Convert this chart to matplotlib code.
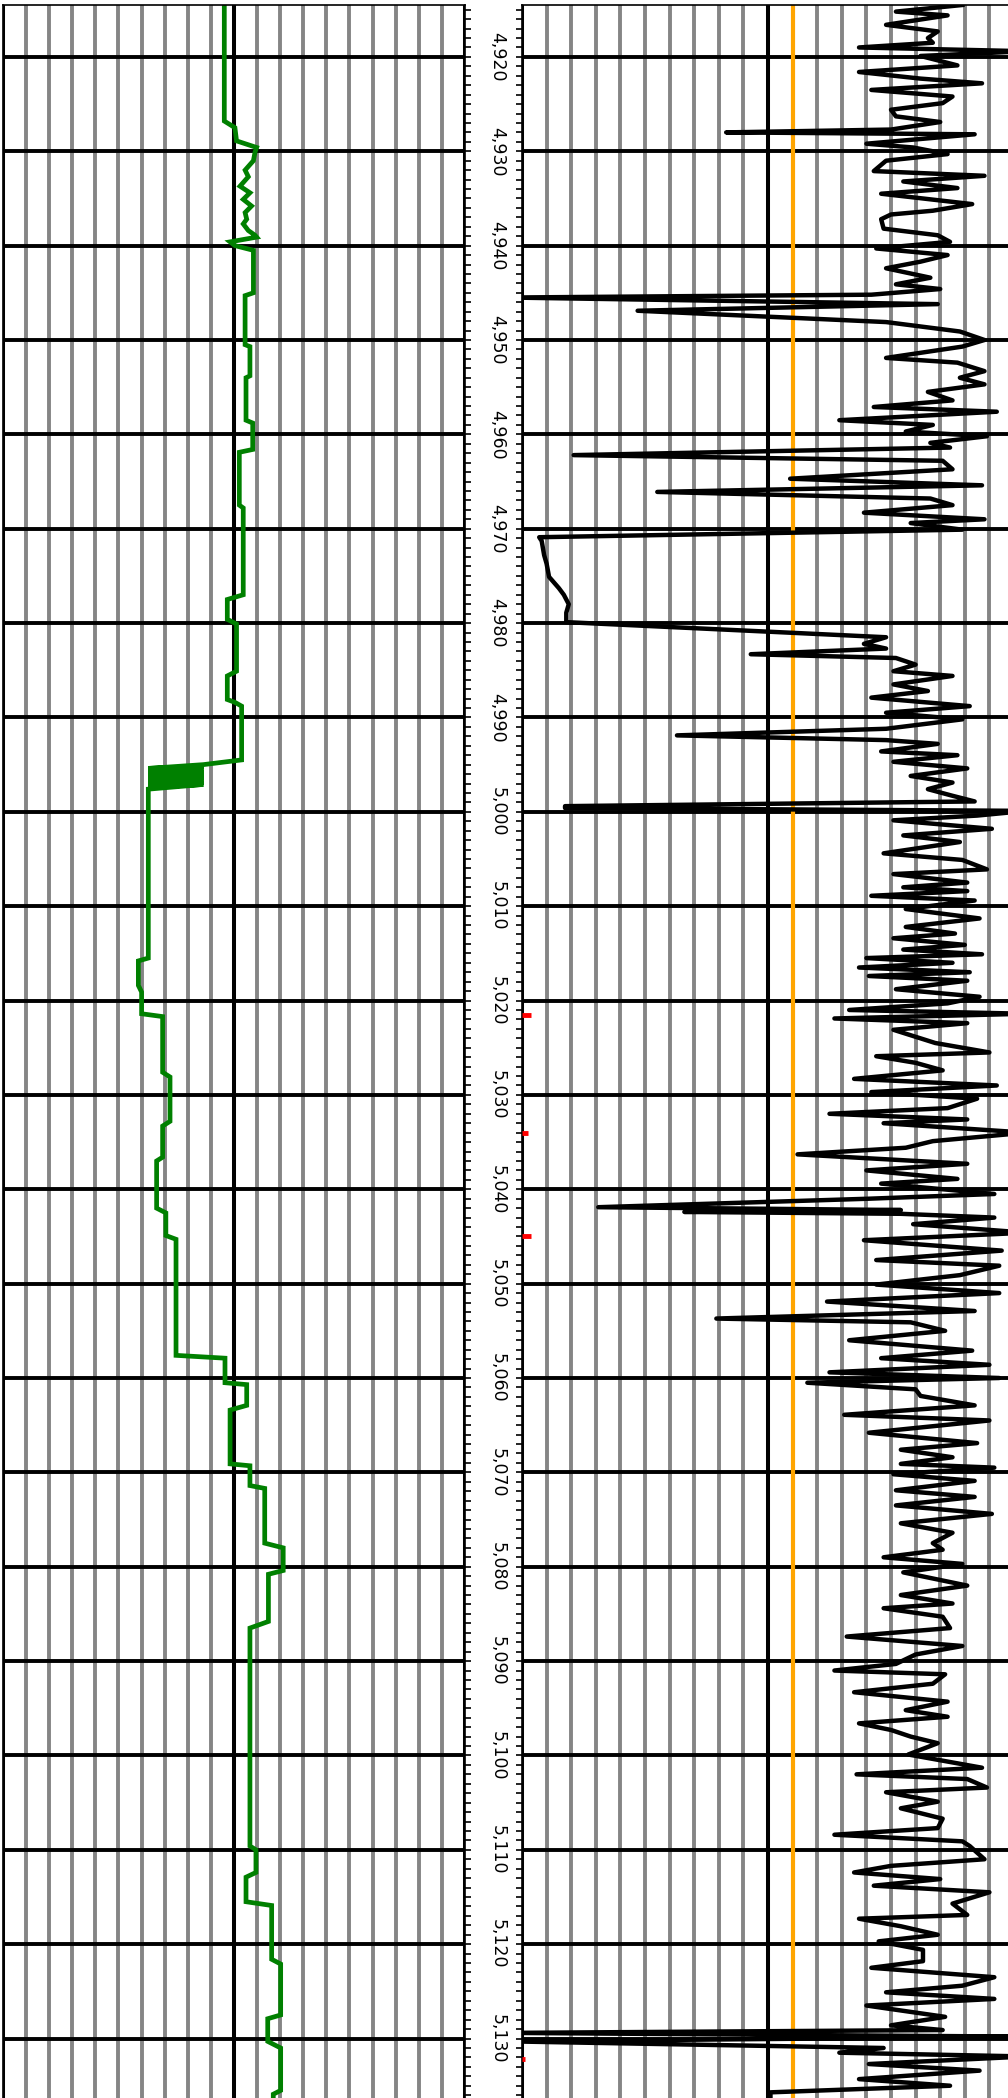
import numpy as np
import matplotlib
matplotlib.use("Agg")
import matplotlib.pyplot as plt
from matplotlib.ticker import MultipleLocator, FuncFormatter

# depth range shown
depth_top = 4.9145
depth_bot = 5.1363

# green curve (left track)
green_depth = [4.9145, 4.9268, 4.9275, 4.9289, 4.9296, 4.9301, 4.9310, 4.9320, 4.9327, 4.9337,
               4.9344, 4.9351, 4.9358, 4.9365, 4.9372, 4.9377, 4.9384, 4.9389, 4.9391, 4.9396,
               4.9400, 4.9405, 4.9450, 4.9453, 4.9505, 4.9507, 4.9538, 4.9540, 4.9585, 4.9588,
               4.9616, 4.9619, 4.9675, 4.9678, 4.9770, 4.9775, 4.9796, 4.9801, 4.9851, 4.9856,
               4.9881, 4.9884, 4.9888, 4.9945,
               4.9950, 4.9954, 4.9952, 4.9957, 4.9955, 4.9959, 4.9957, 4.9962, 4.9960, 4.9964,
               4.9962, 4.9966, 4.9964, 4.9969, 4.9967, 4.9971, 4.9969, 4.9974, 4.9971, 4.9976,
               5.0155, 5.0158, 5.0184, 5.0191, 5.0214, 5.0217, 5.0276, 5.0281, 5.0328, 5.0333,
               5.0366, 5.0370, 5.0420, 5.0425, 5.0449, 5.0453, 5.0576, 5.0579, 5.0605, 5.0607,
               5.0629, 5.0634, 5.0691, 5.0693, 5.0714, 5.0717, 5.0775, 5.0780, 5.0804, 5.0808,
               5.0858, 5.0865, 5.1096, 5.1100, 5.1124, 5.1129, 5.1155, 5.1159, 5.1216, 5.1221,
               5.1275, 5.1279, 5.1303, 5.1310, 5.1355, 5.1359, 5.1370]
green_val = [9.58, 9.58, 10.04, 10.11, 10.98, 10.91, 10.84, 10.48, 10.62, 10.26,
             10.69, 10.40, 10.76, 10.48, 10.55, 10.40, 10.62, 10.91, 10.98, 9.83,
             10.04, 10.84, 10.84, 10.48, 10.48, 10.69, 10.69, 10.52, 10.52, 10.81,
             10.81, 10.23, 10.23, 10.40, 10.40, 9.71, 9.71, 10.11, 10.11, 9.71,
             9.71, 10.04, 10.33, 10.33,
             8.67, 6.29, 8.67, 6.29, 8.67, 6.29, 8.67, 6.29, 8.67, 6.29,
             8.67, 6.29, 8.67, 6.29, 8.67, 6.29, 8.67, 6.29, 8.67, 6.29,
             6.29, 5.86, 5.86, 6.00, 6.00, 6.91, 6.91, 7.23, 7.23, 6.91,
             6.91, 6.65, 6.65, 7.05, 7.05, 7.49, 7.49, 9.61, 9.61, 10.55,
             10.55, 9.83, 9.83, 10.69, 10.69, 11.33, 11.33, 12.13, 12.13, 11.49,
             11.49, 10.69, 10.69, 10.95, 10.95, 10.52, 10.52, 11.63, 11.63, 12.02,
             12.02, 11.46, 11.46, 12.02, 12.02, 11.70, 11.70]

# black curve (right track)
black_depth = [4.9145, 4.9152, 4.9156, 4.9166, 4.9173, 4.9180, 4.9185, 4.9190, 4.9194, 4.9199,
               4.9209, 4.9216, 4.9223, 4.9228, 4.9235, 4.9242, 4.9249, 4.9256, 4.9263, 4.9269,
               4.9277, 4.9280, 4.9282, 4.9292, 4.9296, 4.9303, 4.9310, 4.9321, 4.9326, 4.9332,
               4.9339, 4.9345, 4.9356, 4.9363, 4.9367, 4.9372, 4.9382, 4.9389, 4.9396, 4.9403,
               4.9410, 4.9417, 4.9424, 4.9434, 4.9441, 4.9446, 4.9452, 4.9455, 4.9462, 4.9469,
               4.9481, 4.9491, 4.9500, 4.9507, 4.9519, 4.9524, 4.9533, 4.9540, 4.9547, 4.9555,
               4.9564, 4.9571, 4.9576, 4.9585, 4.9590, 4.9597, 4.9602, 4.9609, 4.9614, 4.9622,
               4.9628, 4.9637, 4.9647, 4.9654, 4.9661, 4.9668, 4.9675, 4.9683, 4.9690, 4.9694,
               4.9701, 4.9709, 4.9713, 4.9728, 4.9737, 4.9751, 4.9763, 4.9770, 4.9780, 4.9789,
               4.9799, 4.9815, 4.9822, 4.9827, 4.9833, 4.9837, 4.9844, 4.9851, 4.9856, 4.9865,
               4.9872, 4.9879,
               4.9888, 4.9895, 4.9902, 4.9912, 4.9919, 4.9924, 4.9928, 4.9936, 4.9940, 4.9947,
               4.9954, 4.9962, 4.9969, 4.9976, 4.9983, 4.9989, 4.9994, 4.9996, 4.9999, 5.0004,
               5.0009, 5.0018, 5.0025, 5.0032, 5.0044, 5.0051, 5.0061, 5.0066, 5.0075, 5.0080,
               5.0084, 5.0089, 5.0094, 5.0103, 5.0113, 5.0122, 5.0129, 5.0134, 5.0141, 5.0146,
               5.0151, 5.0155, 5.0160, 5.0165, 5.0170, 5.0174, 5.0179, 5.0188, 5.0196, 5.0203,
               5.0210, 5.0214, 5.0219, 5.0224, 5.0231, 5.0245, 5.0255, 5.0259, 5.0266, 5.0274,
               5.0283, 5.0290, 5.0297, 5.0304, 5.0314, 5.0320, 5.0326, 5.0330, 5.0340, 5.0349,
               5.0356, 5.0363, 5.0373, 5.0380, 5.0389, 5.0394, 5.0405, 5.0410, 5.0419, 5.0422,
               5.0424, 5.0426, 5.0430, 5.0437, 5.0446, 5.0454, 5.0465, 5.0475, 5.0481, 5.0491,
               5.0501, 5.0510, 5.0519, 5.0529, 5.0537, 5.0541, 5.0550, 5.0560, 5.0571, 5.0579,
               5.0586, 5.0594, 5.0600, 5.0605, 5.0612, 5.0619,
               5.0629, 5.0639, 5.0645, 5.0658, 5.0669, 5.0676, 5.0684, 5.0691, 5.0695, 5.0702,
               5.0709, 5.0719, 5.0726, 5.0735, 5.0744, 5.0754, 5.0764, 5.0775, 5.0782, 5.0790,
               5.0797, 5.0806, 5.0820, 5.0830, 5.0839, 5.0844, 5.0853, 5.0865, 5.0874, 5.0884,
               5.0893, 5.0903, 5.0910, 5.0914, 5.0924, 5.0933, 5.0943, 5.0952, 5.0959, 5.0966,
               5.0973, 5.0980, 5.0987, 5.0999, 5.1013, 5.1020, 5.1025, 5.1034, 5.1039, 5.1049,
               5.1056, 5.1067, 5.1077, 5.1084, 5.1091, 5.1096, 5.1110, 5.1117, 5.1124, 5.1131,
               5.1138, 5.1145, 5.1157, 5.1169, 5.1173, 5.1181, 5.1190, 5.1197, 5.1206, 5.1218,
               5.1225, 5.1235, 5.1244, 5.1251, 5.1258, 5.1265, 5.1277, 5.1286, 5.1291, 5.1294,
               5.1298, 5.1303, 5.1310, 5.1315, 5.1319, 5.1327, 5.1334, 5.1343, 5.1350, 5.1357,
               5.1370]
black_val = [17.9, 15.2, 17.3, 14.8, 16.9, 16.5, 16.7, 13.7, 20.5, 16.2,
             17.7, 13.7, 16.2, 18.7, 14.2, 17.5, 17.1, 15.0, 15.2, 17.0,
             15.0, 8.3, 18.4, 14.0, 15.9, 17.3, 14.8, 14.3, 18.8, 15.5,
             17.7, 14.6, 18.3, 16.7, 15.0, 14.6, 14.7, 16.9, 17.4, 14.4,
             17.3, 16.2, 14.8, 16.6, 15.2, 17.0, 14.2, -0.5, 16.9, 4.7,
             14.8, 17.8, 18.8, 17.9, 14.8, 17.7, 18.8, 17.8, 18.8, 16.5,
             17.5, 14.3, 19.3, 12.9, 16.7, 15.6, 18.9, 16.6, 17.4, 2.1,
             17.1, 17.5, 10.9, 18.7, 5.5, 16.6, 17.5, 13.9, 18.8, 15.8,
             17.9, 0.7, 0.8, 0.9, 1.0, 1.1, 1.5, 1.7, 1.9, 1.8,
             1.8, 14.8, 13.9, 14.8, 9.3, 15.2, 16.0, 15.1, 17.5, 15.1,
             16.5, 14.2,
             18.2, 14.8, 17.9, 14.8, 6.3, 14.8, 16.9, 14.6, 17.7, 15.1,
             18.1, 15.8, 17.5, 16.5, 17.5, 18.4, 1.75, 1.75, 20.5, 18.5,
             15.1, 19.1, 15.5, 17.8, 14.7, 17.9, 18.9, 15.1, 18.1, 15.5,
             18.1, 14.2, 18.4, 15.6, 18.6, 15.6, 17.6, 15.1, 18.0, 15.5,
             18.7, 14.0, 17.5, 13.7, 18.2, 14.1, 18.1, 15.2, 18.6, 17.3,
             13.3, 20.5, 12.7, 18.1, 15.1, 16.8, 19.0, 14.4, 16.0, 17.1,
             13.5, 19.3, 14.2, 18.5, 17.3, 12.5, 18.1, 14.7, 20.5, 16.7,
             15.6, 11.2, 18.1, 14.0, 17.7, 14.6, 19.2, 14.1, 3.1, 15.4,
             6.6, 15.4, 19.2, 15.9, 20.5, 13.9, 19.5, 14.4, 19.4, 17.8,
             14.4, 19.4, 12.4, 18.4, 7.9, 15.8, 17.2, 13.3, 18.3, 14.6,
             19.0, 12.5, 19.4, 11.6, 16.0, 16.2,
             18.4, 13.1, 19.0, 14.1, 18.5, 15.4, 17.5, 15.4, 19.2, 15.1,
             18.4, 15.2, 18.4, 15.2, 19.1, 15.4, 17.5, 16.7, 17.1, 14.7,
             17.9, 15.5, 18.1, 15.4, 17.5, 14.7, 17.1, 17.4, 13.2, 17.9,
             16.0, 15.2, 12.7, 17.2, 16.7, 13.5, 17.3, 15.6, 17.3, 13.7,
             15.0, 15.8, 16.9, 15.7, 18.7, 13.6, 18.1, 18.9, 14.8, 16.9,
             15.4, 17.1, 16.9, 12.7, 17.9, 18.2, 18.8, 15.0, 13.5, 17.0,
             14.3, 19.0, 17.5, 18.1, 13.7, 15.4, 16.9, 14.5, 16.3, 16.3,
             14.2, 19.2, 17.9, 14.8, 19.2, 14.0, 17.2, 15.0, 17.1, -0.5,
             20.5, -0.5, 14.7, 12.9, 20.5, 14.1, 18.6, 13.7, 17.4, 10.1,
             10.1]

# red marks near the left edge of the right track
red_depth = [5.0215, 5.0340, 5.0450, 5.1322]
red_len = [0.37, 0.23, 0.37, 0.12]

cutoff = 11  # orange reference line


def comma_fmt(v, pos):
    return f"{v:.3f}".replace(".", ",")


fig = plt.figure(figsize=(10.08, 20.98), dpi=100)
ax1 = fig.add_axes([3 / 1008, 0.0, 462 / 1008, 2093 / 2098])
ax2 = fig.add_axes([522 / 1008, 0.0, 492 / 1008, 2093 / 2098])

for ax in (ax1, ax2):
    ax.set_xlim(0, 20)
    ax.set_ylim(depth_bot, depth_top)
    ax.xaxis.set_major_locator(MultipleLocator(10))
    ax.xaxis.set_minor_locator(MultipleLocator(1))
    ax.yaxis.set_major_locator(MultipleLocator(0.01))
    ax.yaxis.set_minor_locator(MultipleLocator(0.001))
    ax.grid(which="minor", axis="x", color="#858585", lw=2.8)
    ax.grid(which="major", axis="x", color="black", lw=2.9)
    ax.grid(which="major", axis="y", color="black", lw=2.8)
    ax.tick_params(axis="x", which="both", length=0, labelbottom=False, labeltop=False)
    ax.spines["bottom"].set_visible(False)
    for s in ("left", "right", "top"):
        ax.spines[s].set_linewidth(1.2)

ax1.tick_params(axis="y", which="both", left=False, right=True, labelleft=False,
                labelright=True, length=4, width=1.2, direction="out", pad=13,
                labelsize=12.5, labelrotation=-90)
ax1.yaxis.set_major_formatter(FuncFormatter(comma_fmt))
for lab in ax1.get_yticklabels():
    lab.set_verticalalignment("center")

ax2.tick_params(axis="y", which="both", left=True, right=False, labelleft=False,
                labelright=False, length=4, width=1.2, direction="out")

ax1.plot(green_val, green_depth, color="green", lw=3.4, solid_joinstyle="miter")

ax2.axvline(cutoff, color="orange", lw=3.0, zorder=2.5)
ax2.plot(black_val, black_depth, color="black", lw=3.2, zorder=3)
ax2.hlines(red_depth, 0, red_len, color="red", lw=3.5, zorder=4)

fig.savefig("out.png", dpi=100)
